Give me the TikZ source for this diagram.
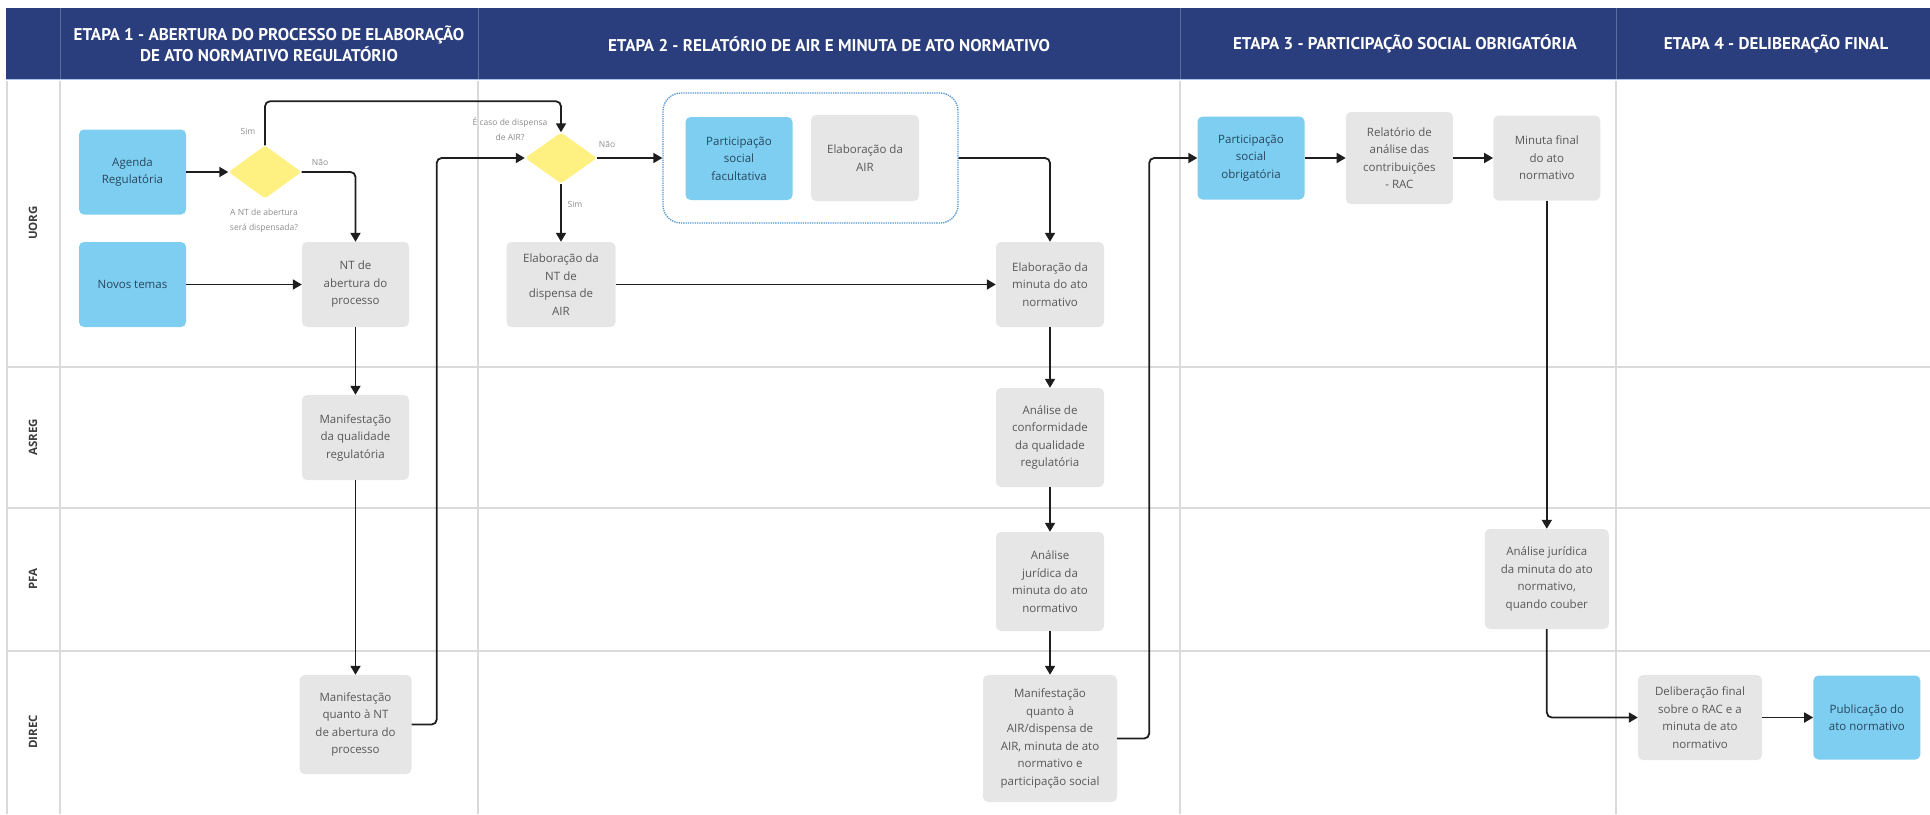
\documentclass[tikz,border=0pt]{standalone}
\usepackage{fontspec}
\setmainfont{Open Sans}
\newfontfamily\etapafont{PT Sans}
\usetikzlibrary{positioning,arrows.meta,shapes.geometric}
\definecolor{HeadNavy}{RGB}{42,61,124}
\definecolor{HeadRule}{RGB}{168,196,232}
\definecolor{HeadSep}{RGB}{92,110,160}
\definecolor{LaneLine}{RGB}{218,218,218}
\definecolor{BoxGray}{RGB}{230,230,230}
\definecolor{BoxBlue}{RGB}{125,206,240}
\definecolor{DecYellow}{RGB}{255,240,130}
\definecolor{GroupBlue}{RGB}{80,150,215}
\definecolor{TextGray}{RGB}{88,88,88}
\definecolor{TextBlue}{RGB}{40,70,95}
\definecolor{NoteGray}{RGB}{140,140,140}
\definecolor{LaneText}{RGB}{60,60,60}
\definecolor{ArrowInk}{RGB}{30,30,30}
\tikzset{
  flow/.style={-{Triangle[length=9pt,width=10pt]},line width=1.8pt,draw=ArrowInk,rounded corners=5pt},
  box/.style={fill=BoxGray,rounded corners=5pt,minimum width=107pt,minimum height=85pt,
    inner sep=2pt,align=center,text=TextGray,font=\fontsize{11.5}{17.5}\selectfont},
  bluebox/.style={box,fill=BoxBlue,text=TextBlue},
  decision/.style={diamond,fill=DecYellow,minimum width=73pt,minimum height=53pt,
    inner sep=0pt,rounded corners=3pt},
  grupo/.style={draw=GroupBlue,densely dotted,line width=1.3pt,rounded corners=18pt,
    minimum width=295pt,minimum height=130pt},
  note/.style={align=center,text=NoteGray,font=\fontsize{8.5}{15}\selectfont},
  lanelabel/.style={rotate=90,text=LaneText,font=\bfseries\fontsize{11.5}{14}\selectfont},
  etapa/.style={align=center,text=white,font=\etapafont\bfseries\fontsize{17}{21}\selectfont},
  laneline/.style={draw=LaneLine,line width=1.2pt}
}

\begin{document}
\begin{tikzpicture}[x=1pt,y=-1pt]
  \useasboundingbox (0,0) rectangle (1930,814);
  % cabecalho e raias
  \fill[HeadNavy] (6,8) rectangle (1930,79);
  \draw[HeadRule,line width=1.5pt] (6,79.5) -- (1930,79.5);
  \foreach \x in {60,478,1180,1616} \draw[HeadSep,line width=1pt] (\x,8) -- (\x,79);
  \foreach \x in {7,60,478,1180,1616} \draw[laneline] (\x,81) -- (\x,814);
  \foreach \y in {367,508,651} \draw[laneline] (7,\y) -- (1930,\y);

  \node[etapa] (e1) at (269,44) {ETAPA 1 - ABERTURA DO PROCESSO DE ELABORAÇÃO\\DE ATO NORMATIVO REGULATÓRIO};
  \node[etapa] (e2) at (829,44) {ETAPA 2 - RELATÓRIO DE AIR E MINUTA DE ATO NORMATIVO};
  \node[etapa] (e3) at (1405,44) {ETAPA 3 - PARTICIPAÇÃO SOCIAL OBRIGATÓRIA};
  \node[etapa] (e4) at (1776,44) {ETAPA 4 - DELIBERAÇÃO FINAL};

  \node[lanelabel] (uorg) at (33,223) {UORG};
  \node[lanelabel] (asreg) at (33,437) {ASREG};
  \node[lanelabel] (pfa) at (33,579) {PFA};
  \node[lanelabel] (direc) at (33,732) {DIREC};

  % etapa 1
  \node[bluebox] (agenda) at (132.5,172) {Agenda\\Regulatória};
  \node[bluebox] (novos) at (132.5,284.5) {Novos temas};
  \node[decision] (d1) at (265,172) {};
  \node[box] (ntab) at (355.5,284.5) {NT de\\abertura do\\processo};
  \node[box] (manq) at (355.5,437.5) {Manifestação\\da qualidade\\regulatória};
  \node[box,minimum width=112pt,minimum height=99pt] (mannt) at (355.5,724.5) {Manifestação\\quanto à NT\\de abertura do\\processo};
  \node[note] (sim1) at (248,131) {Sim};
  \node[note] (nao1) at (320,162) {Não};
  \node[note] (q1) at (264,221) {A NT de abertura\\será dispensada?};

  % etapa 2
  \node[decision,minimum width=72pt,minimum height=51pt] (d2) at (561,158) {};
  \node[note] (q2) at (510,129) {É caso de dispensa\\de AIR?};
  \node[note] (nao2) at (607,144) {Não};
  \node[note] (sim2) at (575,204) {Sim};
  \node[box,minimum width=109pt] (ntdisp) at (561,284.5) {Elaboração da\\NT de\\dispensa de\\AIR};
  \node[grupo] (grp) at (810.5,158) {};
  \node[bluebox,minimum height=83pt] (psfac) at (739,158.5) {Participação\\social\\facultativa};
  \node[box,minimum width=108pt,minimum height=86pt] (elair) at (865,158) {Elaboração da\\AIR};
  \node[box,minimum width=108pt] (minuta) at (1050,284.5) {Elaboração da\\minuta do ato\\normativo};
  \node[box,minimum width=108pt,minimum height=99pt] (conf) at (1050,437.5) {Análise de\\conformidade\\da qualidade\\regulatória};
  \node[box,minimum width=108pt,minimum height=99pt] (jur) at (1050,581.5) {Análise\\jurídica da\\minuta do ato\\normativo};
  \node[box,minimum width=134pt,minimum height=127pt] (manair) at (1050,738.5) {Manifestação\\quanto à\\AIR/dispensa de\\AIR, minuta de ato\\normativo e\\participação social};

  % etapas 3 e 4
  \node[bluebox,minimum height=83pt] (psobr) at (1251,158) {Participação\\social\\obrigatória};
  \node[box,minimum height=92pt,right=41pt of psobr] (rac) {Relatório de\\análise das\\contribuições\\- RAC};
  \node[box,right=40pt of rac] (minfin) {Minuta final\\do ato\\normativo};
  \node[box,minimum width=124pt,minimum height=100pt] (jurq) at (minfin |- 0,579) {Análise jurídica\\da minuta do ato\\normativo,\\quando couber};
  \node[box,minimum width=124pt] (delib) at (1700,717.5) {Deliberação final\\sobre o RAC e a\\minuta de ato\\normativo};
  \node[bluebox,minimum height=84pt,right=51pt of delib] (publ) {Publicação do\\ato normativo};

  % fluxos
  \draw[flow] (agenda) -- (d1);
  \draw[flow] (novos) -- (ntab);
  \draw[flow] (d1.north) -- ++(0,-44) -| (d2.north);
  \draw[flow] (d1.east) -| (ntab.north);
  \draw[flow] (ntab) -- (manq);
  \draw[flow] (manq) -- (mannt);
  \draw[flow] (mannt.east) -- ++(25,0) |- (d2.west);
  \draw[flow] (d2) -- (grp);
  \draw[flow] (d2) -- (ntdisp);
  \draw[flow] (grp.east) -| (minuta.north);
  \draw[flow] (ntdisp) -- (minuta);
  \draw[flow] (minuta) -- (conf);
  \draw[flow] (conf) -- (jur);
  \draw[flow] (jur) -- (manair);
  \draw[flow] (manair.east) -- ++(32,0) |- (psobr.west);
  \draw[flow] (psobr) -- (rac);
  \draw[flow] (rac) -- (minfin);
  \draw[flow] (minfin) -- (jurq);
  \draw[flow] (jurq.south) |- (delib.west);
  \draw[flow] (delib) -- (publ);
\end{tikzpicture}
\end{document}
